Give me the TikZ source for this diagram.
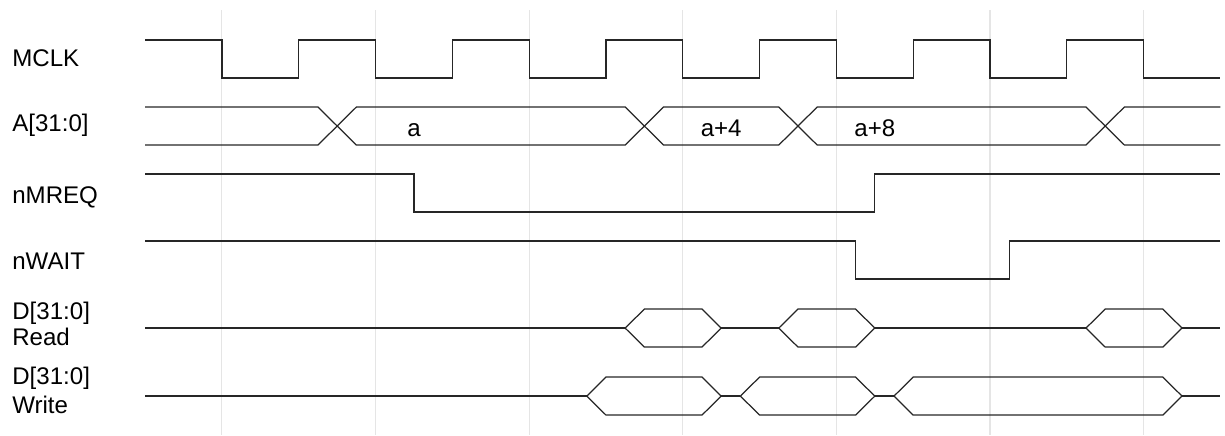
\documentclass[tikz,border=0pt]{standalone}
\usepackage{fontspec}
\setmainfont{Liberation Sans}
\tikzset{
  sig/.style={draw=black!85, line width=0.7pt, line join=miter},
  gridline/.style={draw=black!10, line width=0.6pt},
  lbl/.style={anchor=base west, align=left, inner sep=0pt, font=\fontsize{13.7}{14.7}\selectfont},
  busval/.style={anchor=base, inner sep=0pt, font=\fontsize{13.7}{14.7}\selectfont}
}

\begin{document}
\begin{tikzpicture}[x=1.536cm, y=-0.02cm]
  \useasboundingbox (-1.890,0) rectangle (14.060,435);

  % clock grid
  \foreach \t in {1,3,...,13}
    \draw[gridline] (\t,10) -- (\t,435);

  % signal names
  \node[lbl] (mclk) at (-1.734,66.7) {MCLK};
  \node[lbl] (addr) at (-1.734,131.7) {A[31:0]};
  \node[lbl] (mreq) at (-1.734,203.3) {nMREQ};
  \node[lbl] (wait) at (-1.734,269.3) {nWAIT};
  \node[lbl] (dread) at (-1.734,345) {D[31:0]\\Read};
  \node[lbl] (dwrite) at (-1.734,413.3) {D[31:0]\\[1.9pt]Write};

  % MCLK
  \draw[sig] (0,40) \foreach \t in {1,3,...,11} {
      -- (\t,40) -- (\t,78) -- (\t+1,78) -- (\t+1,40)}
    -- (13,40) -- (13,78) -- (14,78);

  % address bus
  \draw[sig] (0,107) -- (2.25,107) -- (2.5,126) -- (2.25,145) -- (0,145);
  \foreach \a/\b in {2.5/6.5, 6.5/8.5, 8.5/12.5}
    \draw[sig] (\a,126) -- (\a+.25,107) -- (\b-.25,107) -- (\b,126)
      -- (\b-.25,145) -- (\a+.25,145) -- cycle;
  \draw[sig] (14,107) -- (12.75,107) -- (12.5,126) -- (12.75,145) -- (14,145);
  \node[busval] (va) at (3.5,136) {a};
  \node[busval] (va4) at (7.5,136) {a+4};
  \node[busval] (va8) at (9.5,136) {a+8};

  % nMREQ and nWAIT
  \draw[sig] (0,174) -- (3.5,174) -- (3.5,212) -- (9.5,212) -- (9.5,174) -- (14,174);
  \draw[sig] (0,241) -- (9.25,241) -- (9.25,279) -- (11.25,279) -- (11.25,241) -- (14,241);

  % data bus, read
  \foreach \a/\b in {0/6.25, 7.5/8.25, 9.5/12.25, 13.5/14}
    \draw[sig] (\a,328) -- (\b,328);
  \foreach \a/\b in {6.25/7.5, 8.25/9.5, 12.25/13.5}
    \draw[sig] (\a,328) -- (\a+.25,309) -- (\b-.25,309) -- (\b,328)
      -- (\b-.25,347) -- (\a+.25,347) -- cycle;

  % data bus, write
  \foreach \a/\b in {0/5.75, 7.5/7.75, 9.5/9.75, 13.5/14}
    \draw[sig] (\a,396) -- (\b,396);
  \foreach \a/\b in {5.75/7.5, 7.75/9.5, 9.75/13.5}
    \draw[sig] (\a,396) -- (\a+.25,377) -- (\b-.25,377) -- (\b,396)
      -- (\b-.25,415) -- (\a+.25,415) -- cycle;
\end{tikzpicture}
\end{document}
